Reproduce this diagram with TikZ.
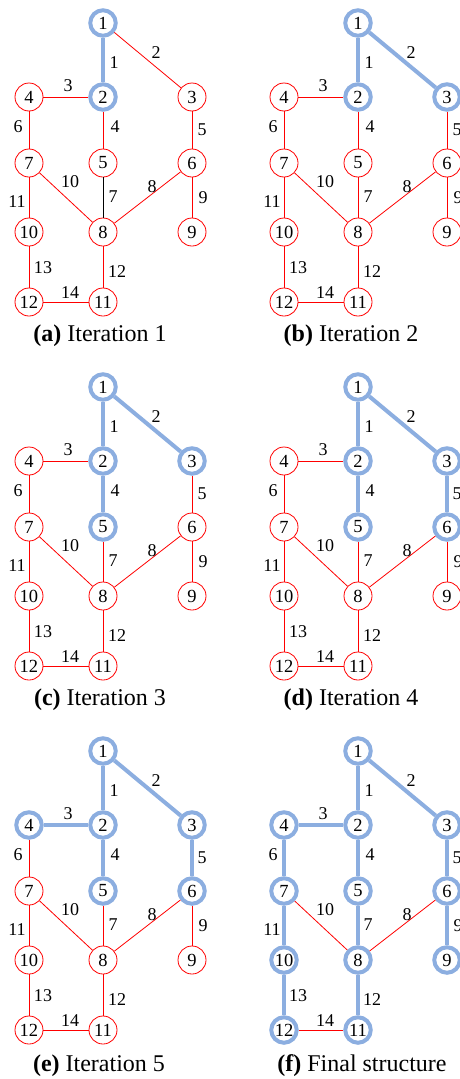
\documentclass[tikz,border=0pt]{standalone}
\usepackage{fontspec}
\setmainfont{Liberation Serif}
\definecolor{myblue}{RGB}{140,174,224}
\tikzset{
  x=1pt, y=1pt,
  rnode/.style={circle, draw=red, line width=0.8, fill=white, minimum size=28, inner sep=0, font=\fontsize{18.5}{21}\selectfont},
  bnode/.style={circle, draw=myblue, line width=4, fill=white, minimum size=25.5, inner sep=0, font=\fontsize{18.5}{21}\selectfont},
  redge/.style={draw=red, line width=0.8},
  bedge/.style={draw=myblue, line width=4},
  kedge/.style={draw=black, line width=0.8},
  lab/.style={inner sep=0, font=\fontsize{18}{21}\selectfont},
  capt/.style={inner sep=0, anchor=base, font=\fontsize{24}{28}\selectfont},
  n1/.style={rnode}, n2/.style={rnode}, n3/.style={rnode}, n4/.style={rnode},
  n5/.style={rnode}, n6/.style={rnode}, n7/.style={rnode}, n8/.style={rnode},
  n9/.style={rnode}, n10/.style={rnode}, n11/.style={rnode}, n12/.style={rnode},
  e1/.style={redge}, e2/.style={redge}, e3/.style={redge}, e4/.style={redge},
  e5/.style={redge}, e6/.style={redge}, e7/.style={redge}, e8/.style={redge},
  e9/.style={redge}, e10/.style={redge}, e11/.style={redge}, e12/.style={redge},
  e13/.style={redge}, e14/.style={redge}
}
\newcommand{\drawgraph}{%
  \node[n1] (1) at (103,-23) {1};
  \node[n2] (2) at (103,-97) {2};
  \node[n3] (3) at (192,-97) {3};
  \node[n4] (4) at (29,-97) {4};
  \node[n5] (5) at (103,-163) {5};
  \node[n6] (6) at (192,-163) {6};
  \node[n7] (7) at (29,-163) {7};
  \node[n8] (8) at (103,-232) {8};
  \node[n9] (9) at (192,-232) {9};
  \node[n10] (10) at (29,-232) {10};
  \node[n11] (11) at (103,-302) {11};
  \node[n12] (12) at (29,-302) {12};
  \draw[e1] (1) -- (2);
  \draw[e2] (1) -- (3);
  \draw[e3] (4) -- (2);
  \draw[e4] (2) -- (5);
  \draw[e5] (3) -- (6);
  \draw[e6] (4) -- (7);
  \draw[e7] (5) -- (8);
  \draw[e8] (6) -- (8);
  \draw[e9] (6) -- (9);
  \draw[e10] (7) -- (8);
  \draw[e11] (7) -- (10);
  \draw[e12] (8) -- (11);
  \draw[e13] (10) -- (12);
  \draw[e14] (12) -- (11);
  \node[lab] (l1) at (114,-63) {1};
  \node[lab] (l2) at (156,-53) {2};
  \node[lab] (l3) at (68,-86) {3};
  \node[lab] (l4) at (115,-127) {4};
  \node[lab] (l5) at (202,-130) {5};
  \node[lab] (l6) at (18,-127) {6};
  \node[lab] (l7) at (113,-197) {7};
  \node[lab] (l8) at (152,-187) {8};
  \node[lab] (l9) at (203,-198) {9};
  \node[lab] (l10) at (70,-182) {10};
  \node[lab] (l11) at (17,-202) {11};
  \node[lab] (l12) at (117,-272) {12};
  \node[lab] (l13) at (43,-268) {13};
  \node[lab] (l14) at (70,-293) {14};
}
\begin{document}
\begin{tikzpicture}
\useasboundingbox (0,0) rectangle (460,-1079);
\begin{scope}[shift={(0,0)}, name prefix=a-,
  n1/.style={bnode}, n2/.style={bnode}, e1/.style={bedge}, e7/.style={kedge}]
  \drawgraph
  \node[capt] (cap) at (100,-341) {\textbf{(a)} Iteration 1};
\end{scope}
\begin{scope}[shift={(255,0)}, name prefix=b-,
  n1/.style={bnode}, n2/.style={bnode}, n3/.style={bnode},
  e1/.style={bedge}, e2/.style={bedge}]
  \drawgraph
  \node[capt] (cap) at (96,-341) {\textbf{(b)} Iteration 2};
\end{scope}
\begin{scope}[shift={(0,-364)}, name prefix=c-,
  n1/.style={bnode}, n2/.style={bnode}, n3/.style={bnode}, n5/.style={bnode},
  e1/.style={bedge}, e2/.style={bedge}, e4/.style={bedge}]
  \drawgraph
  \node[capt] (cap) at (100,-341) {\textbf{(c)} Iteration 3};
\end{scope}
\begin{scope}[shift={(255,-364)}, name prefix=d-,
  n1/.style={bnode}, n2/.style={bnode}, n3/.style={bnode}, n5/.style={bnode}, n6/.style={bnode},
  e1/.style={bedge}, e2/.style={bedge}, e4/.style={bedge}, e5/.style={bedge}]
  \drawgraph
  \node[capt] (cap) at (96,-341) {\textbf{(d)} Iteration 4};
\end{scope}
\begin{scope}[shift={(0,-728)}, name prefix=e-,
  n1/.style={bnode}, n2/.style={bnode}, n3/.style={bnode}, n4/.style={bnode}, n5/.style={bnode}, n6/.style={bnode},
  e1/.style={bedge}, e2/.style={bedge}, e3/.style={bedge}, e4/.style={bedge}, e5/.style={bedge}]
  \drawgraph
  \node[capt] (cap) at (99,-343) {\textbf{(e)} Iteration 5};
\end{scope}
\begin{scope}[shift={(255,-728)}, name prefix=f-,
  n1/.style={bnode}, n2/.style={bnode}, n3/.style={bnode}, n4/.style={bnode}, n5/.style={bnode}, n6/.style={bnode},
  n7/.style={bnode}, n8/.style={bnode}, n9/.style={bnode}, n10/.style={bnode}, n11/.style={bnode}, n12/.style={bnode},
  e1/.style={bedge}, e2/.style={bedge}, e3/.style={bedge}, e4/.style={bedge}, e5/.style={bedge}, e6/.style={bedge},
  e7/.style={bedge}, e9/.style={bedge}, e11/.style={bedge}, e12/.style={bedge}, e13/.style={bedge}]
  \drawgraph
  \node[capt] (cap) at (107,-343) {\textbf{(f)} Final structure};
\end{scope}
\end{tikzpicture}
\end{document}
